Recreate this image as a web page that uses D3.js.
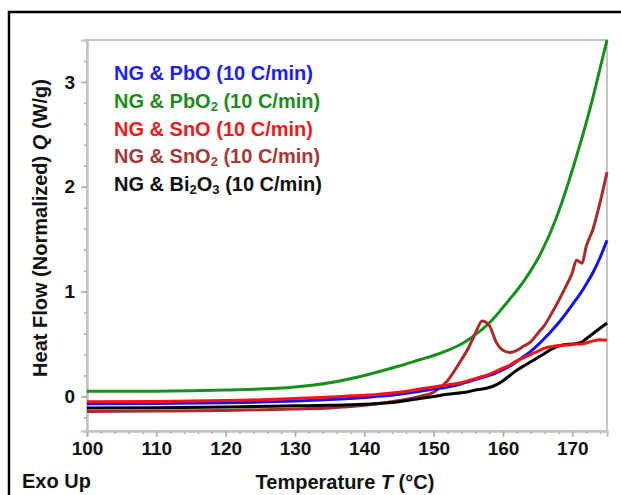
<!DOCTYPE html>
<html>
<head>
<meta charset="utf-8">
<script src="https://cdn.jsdelivr.net/npm/d3@7"></script>
<style>
  body { margin: 0; background: #fff; }
  svg { display: block; font-family: "Liberation Sans", Arial, sans-serif; font-weight: bold; }
</style>
</head>
<body>
<div id="container"></div>
<script>
/* CONSTANTS AND GLOBALS */
const width = 621;
const height = 495;
const margin = { top: 40, right: 14, bottom: 64, left: 87 };

/* DATA */
const temps = [100, 110, 120, 130, 135, 140, 145, 148, 150, 152, 154, 155, 156, 157, 158, 159, 160,
  161, 162, 163, 164, 165, 166, 167, 168, 169, 170, 170.6, 171.4, 172, 173, 174, 175];

const pboQ = [-0.07, -0.068, -0.06, -0.045, -0.03, -0.01, 0.02, 0.05, 0.07, 0.09, 0.12, 0.14, 0.16, 0.18, 0.2, 0.225, 0.255,
  0.29, 0.335, 0.38, 0.43, 0.49, 0.555, 0.625, 0.70, 0.785, 0.875, 0.93, 1.005, 1.07, 1.185, 1.325, 1.49];
const pbo2Q = [0.05, 0.05, 0.06, 0.09, 0.13, 0.2, 0.29, 0.35, 0.39, 0.44, 0.5, 0.54, 0.59, 0.64, 0.7, 0.77, 0.85,
  0.93, 1.01, 1.1, 1.2, 1.31, 1.44, 1.59, 1.76, 1.95, 2.16, 2.29, 2.47, 2.61, 2.86, 3.13, 3.4];
const snoQ = [-0.05, -0.048, -0.04, -0.02, -0.005, 0.01, 0.04, 0.07, 0.09, 0.11, 0.13, 0.15, 0.17, 0.19, 0.21, 0.24, 0.27,
  0.3, 0.34, 0.37, 0.4, 0.43, 0.46, 0.475, 0.485, 0.49, 0.495, 0.5, 0.5, 0.51, 0.53, 0.54, 0.535];
const sno2Q = [-0.145, -0.14, -0.135, -0.12, -0.11, -0.085, -0.04, 0.0, 0.04, 0.15, 0.35, 0.46, 0.6, 0.72, 0.68, 0.52, 0.44,
  0.42, 0.44, 0.48, 0.52, 0.6, 0.68, 0.79, 0.91, 1.04, 1.18, 1.3, 1.27, 1.43, 1.6, 1.85, 2.14];
const bi2o3Q = [-0.11, -0.108, -0.1, -0.09, -0.085, -0.075, -0.05, -0.02, 0.0, 0.02, 0.035, 0.045, 0.06, 0.07, 0.085, 0.11, 0.15,
  0.2, 0.25, 0.29, 0.33, 0.37, 0.41, 0.45, 0.48, 0.495, 0.5, 0.505, 0.52, 0.55, 0.6, 0.65, 0.7];

const xTicks = [100, 110, 120, 130, 140, 150, 160, 170];
const yTicks = [0, 1, 2, 3];

// label parts alternate normal / subscript
const series = [
  { name: "PbO2", values: pbo2Q, color: "#16901a", label: ["NG & PbO", "2", " (10 C/min)"] },
  { name: "SnO2", values: sno2Q, color: "#a82c2c", label: ["NG & SnO", "2", " (10 C/min)"] },
  { name: "PbO", values: pboQ, color: "#1010ff", label: ["NG & PbO (10 C/min)"] },
  { name: "Bi2O3", values: bi2o3Q, color: "#000000", label: ["NG & Bi", "2", "O", "3", " (10 C/min)"] },
  { name: "SnO", values: snoQ, color: "#ff1010", label: ["NG & SnO (10 C/min)"] }
];
const legendOrder = ["PbO", "PbO2", "SnO", "SnO2", "Bi2O3"];
const legendColors = { PbO: "#2020f0", PbO2: "#1f8a22", SnO: "#f01a1a", SnO2: "#a53838", Bi2O3: "#111" };

/* SCALES */
const xScale = d3.scaleLinear()
  .domain([100, 175])
  .range([margin.left, width - margin.right]);

const yScale = d3.scaleLinear()
  .domain([-0.33, 3.4])
  .range([height - margin.bottom, margin.top]);

/* SVG */
const svg = d3.select("#container")
  .append("svg")
  .attr("width", width)
  .attr("height", height);

// outer frame (runs off the right and bottom edges)
svg.append("path")
  .attr("d", `M9,${height + 5} V12 H${width + 5}`)
  .attr("fill", "none")
  .attr("stroke", "#000")
  .attr("stroke-width", 2.5);

// plot box
svg.append("rect")
  .attr("x", margin.left)
  .attr("y", margin.top)
  .attr("width", width - margin.right - margin.left)
  .attr("height", height - margin.bottom - margin.top)
  .attr("fill", "none")
  .attr("stroke", "#c4c4c4")
  .attr("stroke-width", 2);

/* AXES */
const xAxisGroup = svg.append("g")
  .attr("transform", `translate(0, ${height - margin.bottom})`);
xAxisGroup.call(d3.axisBottom(xScale).tickValues(d3.range(100, 176, 2)).tickSize(3).tickFormat(""));
xAxisGroup.call(g => g.append("g").call(d3.axisBottom(xScale).tickValues(xTicks).tickSize(6).tickPadding(5)));

const yAxisGroup = svg.append("g")
  .attr("transform", `translate(${margin.left}, 0)`);
yAxisGroup.call(d3.axisLeft(yScale).tickValues(d3.range(-0.2, 3.41, 0.2)).tickSize(3).tickFormat(""));
yAxisGroup.call(g => g.append("g").call(d3.axisLeft(yScale).tickValues(yTicks).tickFormat(d3.format("d")).tickSize(6).tickPadding(6)));

svg.selectAll(".domain").attr("stroke", "#c4c4c4").attr("stroke-width", 2);
svg.selectAll(".tick line").attr("stroke", "#aaa").attr("stroke-width", 1.5);
svg.selectAll(".tick text")
  .attr("fill", "#111")
  .style("font-size", "19px")
  .style("font-weight", "bold")
  .style("font-family", "'Liberation Sans', Arial, sans-serif");

/* LINES */
const line = d3.line()
  .x((d, i) => xScale(temps[i]))
  .y(d => yScale(d))
  .curve(d3.curveMonotoneX);

svg.append("g")
  .selectAll("path")
  .data(series)
  .join("path")
  .attr("d", d => line(d.values))
  .attr("fill", "none")
  .attr("stroke", d => d.color)
  .attr("stroke-width", 3)
  .attr("stroke-linejoin", "round");

/* LEGEND */
const legend = svg.append("g").attr("transform", "translate(114, 80)");
legendOrder.forEach((key, i) => {
  const s = series.find(d => d.name === key);
  const t = legend.append("text")
    .attr("y", i * 27.8)
    .attr("fill", legendColors[key])
    .style("font-size", "20px");
  s.label.forEach((part, j) => {
    const isSub = j % 2 === 1;
    t.append("tspan")
      .attr("dy", isSub ? 3 : (j > 0 ? -3 : 0))
      .style("font-size", isSub ? "13px" : "20px")
      .text(part);
  });
});

/* AXIS TITLES */
const yTitle = svg.append("text")
  .attr("transform", `translate(47, 228) rotate(-90)`)
  .attr("text-anchor", "middle")
  .attr("fill", "#111")
  .style("font-size", "20px");
yTitle.append("tspan").text("Heat Flow (Normalized)  ");
yTitle.append("tspan").style("font-style", "italic").text("Q");
yTitle.append("tspan").text("  (W/g)");

const xTitle = svg.append("text")
  .attr("x", 345)
  .attr("y", 489)
  .attr("text-anchor", "middle")
  .attr("fill", "#111")
  .style("font-size", "20px");
xTitle.append("tspan").text("Temperature  ");
xTitle.append("tspan").style("font-style", "italic").text("T");
xTitle.append("tspan").text("  (°C)");

svg.append("text")
  .attr("x", 22)
  .attr("y", 488)
  .attr("fill", "#111")
  .style("font-size", "20px")
  .text("Exo Up");
</script>
</body>
</html>
